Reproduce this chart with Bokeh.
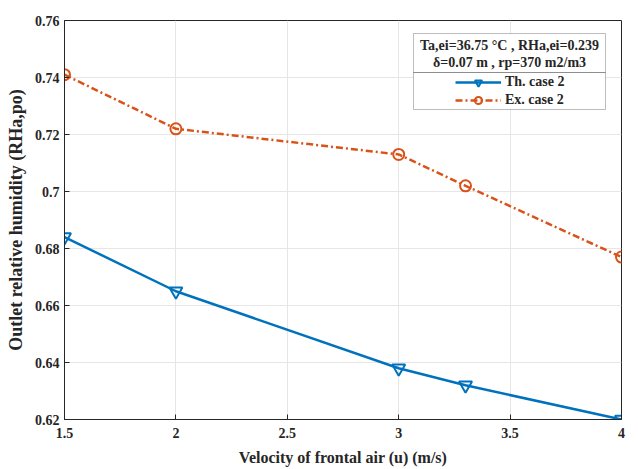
from bokeh.plotting import figure
from bokeh.models import (Legend, LegendItem, FixedTicker, CustomJSTickFormatter, Range1d,
                          BoxAnnotation, Label)
from bokeh.embed import file_html
from bokeh.resources import INLINE

velocity = [1.5, 2, 3, 3.3, 4]
th_case2 = [0.684, 0.665, 0.638, 0.632, 0.620]
ex_case2 = [0.741, 0.722, 0.713, 0.702, 0.677]
x_ticks = [1.5, 2, 2.5, 3, 3.5, 4]
y_ticks = [0.62, 0.64, 0.66, 0.68, 0.70, 0.72, 0.74, 0.76]
legend_title = ["Ta,ei=36.75 °C , RHa,ei=0.239", "δ=0.07 m , rp=370 m2/m3"]
series_names = ["Th. case 2", "Ex. case 2"]

FONT = "Liberation Serif"
BLUE = "#0072BD"
ORANGE = "#D95319"
TXT = "#262626"

p = figure(width=638, height=469, output_backend="svg", toolbar_location=None,
           x_range=Range1d(1.5, 4), y_range=Range1d(0.62, 0.76),
           min_border_left=64, min_border_top=20, min_border_right=17, min_border_bottom=50)
p.outline_line_color = "#262626"
p.outline_line_width = 1
p.background_fill_color = "white"

for ax in (p.xaxis[0], p.yaxis[0]):
    ax.major_label_text_font = FONT
    ax.major_label_text_font_style = "bold"
    ax.major_label_text_font_size = "14px"
    ax.major_label_text_color = TXT
    ax.axis_label_text_font = FONT
    ax.axis_label_text_font_style = "bold"
    ax.axis_label_text_font_size = "16px"
    ax.axis_label_text_color = TXT
    ax.major_tick_in = 5
    ax.major_tick_out = 0
    ax.minor_tick_line_color = None
    ax.axis_line_color = TXT
    ax.major_tick_line_color = TXT
p.yaxis.axis_label_text_font_size = "18px"

p.xaxis.ticker = FixedTicker(ticks=x_ticks)
p.yaxis.ticker = FixedTicker(ticks=y_ticks)
fmt = CustomJSTickFormatter(code="return String(parseFloat(tick.toFixed(3)));")
p.xaxis.formatter = fmt
p.yaxis.formatter = fmt
p.xaxis.axis_label = "Velocity of frontal air (u) (m/s)"
p.yaxis.axis_label = "Outlet relative humidity (RHa,po)"
p.xaxis.axis_label_standoff = 8
p.yaxis.axis_label_standoff = 6
p.xaxis.major_label_standoff = 8

p.grid.grid_line_color = "#e6e6e6"
p.grid.grid_line_width = 1

l1 = p.line(velocity, th_case2, line_color=BLUE, line_width=2.5)
m1 = p.scatter(velocity, th_case2, marker="inverted_triangle", size=13,
               line_color=BLUE, line_width=2, fill_color=None)
l2 = p.line(velocity, ex_case2, line_color=ORANGE, line_width=2.5, line_dash="7 3 2 3")
m2 = p.scatter(velocity, ex_case2, marker="circle", size=11,
               line_color=ORANGE, line_width=2, fill_color=None)

# legend frame (screen units relative to plot frame, y from bottom)
box = BoxAnnotation(left=349, right=541, top=386, bottom=310,
                    left_units="screen", right_units="screen",
                    top_units="screen", bottom_units="screen",
                    fill_color="white", fill_alpha=1, line_color=TXT, line_width=1,
                    level="overlay")
p.add_layout(box)
sep = BoxAnnotation(left=349, right=541, top=347, bottom=347,
                    left_units="screen", right_units="screen",
                    top_units="screen", bottom_units="screen",
                    fill_alpha=0, line_color=TXT, line_width=1, level="overlay")
p.add_layout(sep)
for txt, yy in zip(legend_title, [374, 357]):
    p.add_layout(Label(x=445, y=yy, x_units="screen", y_units="screen", text=txt,
                       text_align="center", text_baseline="middle",
                       text_font=FONT, text_font_style="bold", text_font_size="14px",
                       text_color=TXT, level="overlay"))

legend = Legend(items=[LegendItem(label=series_names[0], renderers=[l1, m1]),
                       LegendItem(label=series_names[1], renderers=[l2, m2])],
                location=(391, 310))
legend.label_text_font = FONT
legend.label_text_font_style = "bold"
legend.label_text_font_size = "14px"
legend.label_text_color = TXT
legend.border_line_color = None
legend.background_fill_alpha = 0
legend.margin = 0
legend.padding = 0
legend.spacing = 0
legend.label_height = 18
legend.glyph_height = 18
legend.glyph_width = 46
legend.label_standoff = 4
legend.level = "overlay"
p.add_layout(legend)

open("out.html", "w").write(file_html(p, INLINE))
